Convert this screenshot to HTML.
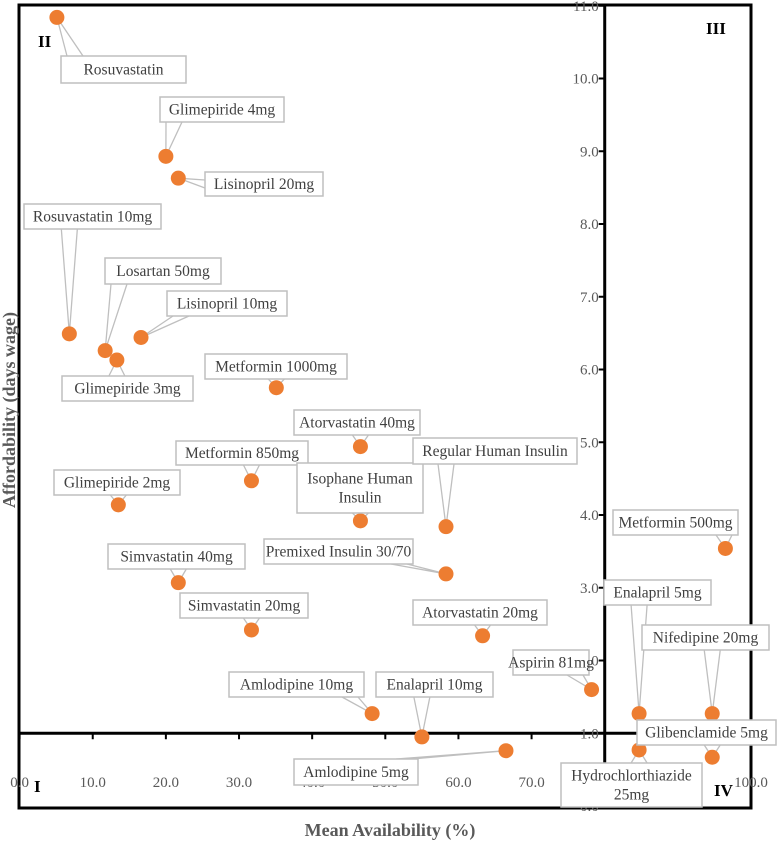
<!DOCTYPE html>
<html><head><meta charset="utf-8"><style>
body{margin:0;background:#fff}
svg, svg text{font-family:"Liberation Serif","DejaVu Serif",serif}
</style></head><body>
<svg id="c" width="778" height="842">
<rect x="19" y="5" width="732" height="803" fill="none" stroke="#000" stroke-width="3"/>
<g id="axes"></g><g id="leaders"></g><g id="pts"></g><g id="labels"></g>
<text x="38" y="47" font-size="17" font-weight="bold">II</text>
<text x="706" y="34" font-size="17" font-weight="bold">III</text>
<text x="34" y="792" font-size="17" font-weight="bold">I</text>
<text x="714" y="796" font-size="17" font-weight="bold">IV</text>
<text x="390" y="836" font-size="18" font-weight="bold" fill="#595959" text-anchor="middle">Mean Availability (%)</text>
<text transform="translate(15,410) rotate(-90)" font-size="18" font-weight="bold" fill="#595959" text-anchor="middle">Affordability (days wage)</text>
</svg>
<script>
const names=["Rosuvastatin","Glimepiride 4mg","Lisinopril 20mg","Rosuvastatin 10mg","Losartan 50mg","Lisinopril 10mg","Glimepiride 3mg","Metformin 1000mg","Atorvastatin 40mg","Metformin 850mg","Glimepiride 2mg","Isophane Human|Insulin","Regular Human Insulin","Metformin 500mg","Premixed Insulin 30/70","Simvastatin  40mg","Simvastatin  20mg","Atorvastatin 20mg","Aspirin 81mg","Amlodipine 10mg","Enalapril 10mg","Enalapril 5mg","Nifedipine 20mg","Amlodipine 5mg","Hydrochlorthiazide|25mg","Glibenclamide 5mg"];
const availability=[5.1,20.0,21.7,6.8,11.7,16.6,13.3,35.1,46.6,31.7,13.5,46.6,58.3,96.5,58.3,21.7,31.7,63.3,78.2,48.2,55.0,84.7,94.7,66.5,84.7,94.7];
const affordability=[10.84,8.93,8.63,6.49,6.26,6.44,6.13,5.75,4.94,4.47,4.14,3.92,3.84,3.54,3.19,3.07,2.42,2.34,1.60,1.27,0.95,1.27,1.27,0.76,0.77,0.67];
const xTicks=[0,10,20,30,40,50,60,70,80,90,100];
const yTicks=[0,1,2,3,4,5,6,7,8,9,10,11];
// label boxes [x,y,w,h] in pixels (layout, not data)
const boxes=[[61,56,125,27],[160,97,124,25],[205,172,118,24],[24,204,137,25],[105,258,116,26],[167,291,120,25],[62,376,131,25],[205,354,142,25],[294,410,126,25],[176,441,132,24],[54,470,126,25],[297,463,126,50],[413,438,164,26],[613,510,125,25],[264,539,149,25],[108,544,137,25],[180,593,128,25],[413,600,134,25],[513,650,76,25],[229,672,135,25],[376,672,117,25],[604,580,107,25],[642,625,127,25],[294,759,124,26],[561,763,141,44],[637,720,139,25]];
const X=v=>19.6+v*7.314, Y=v=>806-v*72.75;
const NS="http://www.w3.org/2000/svg";
const FF='"Liberation Serif", "DejaVu Serif", serif';
function mk(t,a,p){const e=document.createElementNS(NS,t);for(const k in a)e.setAttribute(k,a[k]);p.appendChild(e);return e;}
const ax=document.getElementById('axes');
const xl=mk('line',{x1:X(0),x2:X(100),y1:Y(1),y2:Y(1),stroke:'#000','stroke-width':3},ax);


const yl=mk('line',{x1:X(80),x2:X(80),y1:Y(0),y2:Y(11),stroke:'#000','stroke-width':3},ax);


xTicks.forEach(t=>{
 mk('line',{x1:X(t),x2:X(t),y1:Y(1),y2:Y(1)+6,stroke:'#000','stroke-width':2},ax);
 const e=mk('text',{x:X(t),y:787,'font-size':15,fill:'#595959','text-anchor':'middle'},ax);e.textContent=t.toFixed(1);
 
 
});
yTicks.forEach(t=>{
 mk('line',{x1:X(80)-6,x2:X(80),y1:Y(t),y2:Y(t),stroke:'#000','stroke-width':2},ax);
 const e=mk('text',{x:X(80)-6,y:Y(t)+5,'font-size':15,fill:'#595959','text-anchor':'end'},ax);e.textContent=t.toFixed(1);
 
 
});
const L=document.getElementById('leaders'),P=document.getElementById('pts'),B=document.getElementById('labels');
names.forEach((n,i)=>{
 const px=X(availability[i]),py=Y(affordability[i]);const [bx,by,bw,bh]=boxes[i];
 let a1,a2;
 if(py>by+bh){const cx=Math.min(Math.max(px,bx+14),bx+bw-14);a1=[cx-8,by+bh];a2=[cx+8,by+bh];}
 else if(py<by){const cx=Math.min(Math.max(px,bx+14),bx+bw-14);a1=[cx-8,by];a2=[cx+8,by];}
 else if(px<bx){a1=[bx,by+bh/2-4];a2=[bx,by+bh/2+4];}
 else {a1=[bx+bw,by+bh/2-4];a2=[bx+bw,by+bh/2+4];}
 const ld=mk('polyline',{points:`${a1} ${px},${py} ${a2}`,fill:'none',stroke:'#bfbfbf','stroke-width':1.3},L);
 
 
 const c=mk('circle',{cx:px,cy:py,r:7.5,fill:'#ED7D31'},P);
 
 
 const g=mk('g',{},B);
 
 
 mk('rect',{x:bx,y:by,width:bw,height:bh,fill:'#fff',stroke:'#bfbfbf','stroke-width':1.5},g);
 const lines=n.split('|');
 lines.forEach((s,k)=>{const t=mk('text',{x:bx+bw/2,y:by+bh/2+5+(k-(lines.length-1)/2)*19,'font-size':15.5,fill:'#404040','text-anchor':'middle'},g);t.textContent=s;});
});
</script>
</body></html>
